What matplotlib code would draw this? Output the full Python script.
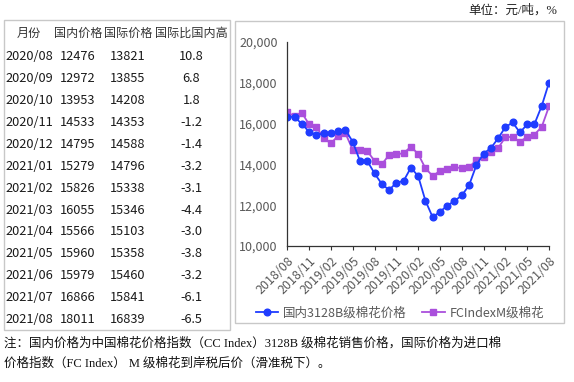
import numpy as np
import matplotlib
matplotlib.use("Agg")
import matplotlib.pyplot as plt
from matplotlib.patches import Rectangle
from matplotlib.transforms import ScaledTranslation

plt.rcParams["font.family"] = ["Noto Sans CJK SC", "DejaVu Sans"]

# ---- data ----
months = ["2018/08", "2018/09", "2018/10", "2018/11", "2018/12",
          "2019/01", "2019/02", "2019/03", "2019/04", "2019/05", "2019/06", "2019/07",
          "2019/08", "2019/09", "2019/10", "2019/11", "2019/12",
          "2020/01", "2020/02", "2020/03", "2020/04", "2020/05", "2020/06", "2020/07",
          "2020/08", "2020/09", "2020/10", "2020/11", "2020/12",
          "2021/01", "2021/02", "2021/03", "2021/04", "2021/05", "2021/06", "2021/07",
          "2021/08"]
domestic = [16340, 16330, 15980, 15600, 15440, 15520, 15520, 15630, 15690, 15110,
            14170, 14170, 13560, 13040, 12745, 13100, 13190, 13840, 13430, 12220,
            11410, 11680, 11975, 12210,
            12476, 12972, 13953, 14533, 14795, 15279, 15826, 16055, 15566, 15960,
            15979, 16866, 18011]
international = [16550, 16360, 16530, 15960, 15840, 15280, 15030, 15410, 15525, 14710,
                 14710, 14660, 14170, 14005, 14460, 14495, 14545, 14870, 14510, 13810,
                 13430, 13680, 13775, 13860,
                 13821, 13855, 14208, 14353, 14588, 14796, 15338, 15346, 15103, 15358,
                 15460, 15841, 16839]
table_months = months[-13:]
table_dom = domestic[-13:]
table_int = international[-13:]
table_diff = ["10.8", "6.8", "1.8", "-1.2", "-1.4", "-3.2", "-3.1", "-4.4",
              "-3.0", "-3.8", "-3.2", "-6.1", "-6.5"]
table_header = ["月份", "国内价格", "国际价格", "国际比国内高"]
tick_idx = list(range(0, 37, 3))

W, H = 574, 382
fx = lambda x: x / W
fy = lambda y: 1 - y / H

fig = plt.figure(figsize=(W / 100, H / 100), dpi=100)

# ---- table on the left ----
fig.patches.append(Rectangle((fx(3.5), fy(330)), fx(226), 310 / H, transform=fig.transFigure,
                             fill=False, edgecolor="#c8c8c8", lw=1))
col_x = [29, 78, 128, 191.5]
for cx, h in zip(col_x, table_header):
    fig.text(fx(cx), fy(33.3), h, ha="center", va="center", fontsize=8.7, color="#333333")
for k in range(len(table_months)):
    y = fy(56.7 + 21.9 * k)
    row = [table_months[k], str(table_dom[k]), str(table_int[k]), table_diff[k]]
    for cx, v in zip(col_x, row):
        fig.text(fx(cx), y, v, ha="center", va="center", fontsize=9.2, color="#1a1a1a")

# ---- chart frame ----
fig.patches.append(Rectangle((fx(235), fy(323)), fx(329), 302.5 / H, transform=fig.transFigure,
                             fill=False, edgecolor="#c8c8c8", lw=1))

ax = fig.add_axes([fx(287.3), fy(246), (549 - 287.3) / W, (246 - 42) / H])
x = np.arange(len(months))
l2, = ax.plot(x, international, color="#aa4fdc", marker="s", markersize=4.4, lw=1.3,
              label="FCIndexM级棉花")
l1, = ax.plot(x, domestic, color="#1f3cff", marker="o", markersize=4.8, lw=1.3,
              label="国内3128B级棉花价格")
ax.set_xlim(0, 36)
ax.set_ylim(10000, 20000)
ax.set_yticks(range(10000, 20001, 2000))
ax.set_yticklabels([f"{v:,}" for v in range(10000, 20001, 2000)])
ax.set_xticks(tick_idx)
ax.set_xticklabels([months[i] for i in tick_idx], rotation=45, ha="right",
                   rotation_mode="anchor")
for lab in ax.get_xticklabels():
    lab.set_transform(lab.get_transform() + ScaledTranslation(5 / 100, -2 / 100, fig.dpi_scale_trans))
ax.tick_params(axis="y", length=0, pad=7, labelsize=9, labelcolor="#595959")
ax.tick_params(axis="x", length=3, width=0.8, direction="out", pad=3, labelsize=9,
               labelcolor="#595959", color="#333333")
for s in ["top", "right"]:
    ax.spines[s].set_visible(False)
for s in ["left", "bottom"]:
    ax.spines[s].set_color("#333333")
    ax.spines[s].set_linewidth(0.9)
ax.patch.set_alpha(0)

fig.legend(handles=[l1, l2], loc="center", bbox_to_anchor=(fx(400), fy(313)), ncol=2,
           frameon=False, fontsize=9, handlelength=1.8, handletextpad=0.4,
           columnspacing=1.2, labelcolor="#595959")

# ---- header and footnote ----
serif = ["Liberation Serif", "Noto Sans CJK SC"]
fig.text(fx(557), fy(10), "单位：元/吨，%", ha="right", va="center", fontsize=9,
         family=serif, color="#222222")
fig.text(fx(4), fy(343), "注：国内价格为中国棉花价格指数（CC Index）3128B 级棉花销售价格，国际价格为进口棉",
         ha="left", va="center", fontsize=9, family=serif, color="#111111")
fig.text(fx(4), fy(364), "价格指数（FC Index） M 级棉花到岸税后价（滑准税下）。",
         ha="left", va="center", fontsize=9, family=serif, color="#111111")

fig.savefig("out.png", dpi=100)
